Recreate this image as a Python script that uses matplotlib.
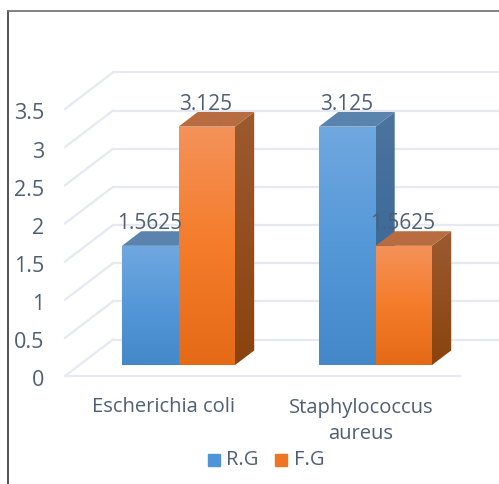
import numpy as np
import matplotlib
matplotlib.use('Agg')
import matplotlib.pyplot as plt
from matplotlib.colors import LinearSegmentedColormap
from matplotlib.patches import Polygon, Rectangle

plt.rcParams['font.family'] = ['Open Sans', 'DejaVu Sans']

categories = ['Escherichia coli', 'Staphylococcus\naureus']
series_names = ['R.G', 'F.G']
rg_values = [1.5625, 3.125]
fg_values = [3.125, 1.5625]
y_ticks = [0, 0.5, 1, 1.5, 2, 2.5, 3, 3.5]
y_tick_labels = ['0', '0.5', '1', '1.5', '2', '2.5', '3', '3.5']

W, H = 499, 484
# pixels per data unit, and where x=0 / y=0 sit in the picture
PX_X = 197.0
PX_Y = 76.3
X0 = 178.5
Y0 = 376.0
# full depth of the 3d box in pixels
DEPTH_X = 48 / PX_X
DEPTH_Y = 36.5 / PX_Y
BAR_W = 56.5 / PX_X
GRID = '#e6e9f0'
TEXT = '#4f5f73'

blue = dict(front=('#70a8e0', '#5598d8', '#4488ca'), top=('#5a83ae', '#5a83ae'), side=('#4c749e', '#2f6296'))
orange = dict(front=('#f5925a', '#f47c2a', '#e56a16'), top=('#b86c40', '#b86c40'), side=('#9c5a30', '#8a430e'))


def px_x(p):
    return (p - X0) / PX_X


def px_y(p):
    return (Y0 - p) / PX_Y


fig = plt.figure(figsize=(W / 100, H / 100), dpi=100)
ax = fig.add_axes([0, 0, 1, 1])
xlim = (px_x(0), px_x(W))
ylim = (px_y(H), px_y(0))
ax.axis('off')


def fill_face(verts, colors, zorder):
    verts = np.array(verts)
    cmap = LinearSegmentedColormap.from_list('f', colors)
    grad = np.linspace(0, 1, 256).reshape(-1, 1)
    ext = [verts[:, 0].min(), verts[:, 0].max(), verts[:, 1].min(), verts[:, 1].max()]
    im = ax.imshow(grad, cmap=cmap, extent=ext, origin='upper', aspect='auto', zorder=zorder)
    im.set_clip_path(Polygon(verts, closed=True, transform=ax.transData))


def bar3d(left, value, style, zorder):
    d0, d1 = 0.3, 0.7
    right = left + BAR_W
    base = d0 * DEPTH_Y
    top = base + value
    dx = (d1 - d0) * DEPTH_X
    dy = (d1 - d0) * DEPTH_Y
    fill_face([(right, base), (right + dx, base + dy), (right + dx, top + dy), (right, top)], style['side'], zorder)
    fill_face([(left, top), (right, top), (right + dx, top + dy), (left + dx, top + dy)], style['top'], zorder)
    fill_face([(left, base), (right, base), (right, top), (left, top)], style['front'], zorder + 0.5)
    return (left + right) / 2 + dx / 2, top + dy


# back wall gridlines and the slanted ones on the left side wall
x_left = px_x(65)
x_back = x_left + DEPTH_X
for t in y_ticks:
    by = t + DEPTH_Y
    ax.plot([x_left, x_back], [t, by], color=GRID, lw=1.6, zorder=1)
    ax.plot([x_back, px_x(W + 2)], [by, by], color=GRID, lw=1.6, zorder=1)
ax.plot([x_left, px_x(460)], [0, 0], color=GRID, lw=1.6, zorder=1)

for t, lab in zip(y_ticks, y_tick_labels):
    ax.text(px_x(44), t - 5 / PX_Y, lab, ha='right', va='center', fontsize=15.5, color=TEXT)

zo = 3
for i in range(len(categories)):
    for left, value, style in [(i - BAR_W, rg_values[i], blue), (i, fg_values[i], orange)]:
        lx, ly = bar3d(left, value, style, zo)
        zo += 1
        ax.text(lx - 0.1 * DEPTH_X - 5.5 / PX_X, ly - 0.035, f'{value:g}', ha='center', va='bottom',
                fontsize=15, color=TEXT, zorder=20)
    label_y = 407 if '\n' not in categories[i] else 421
    ax.text(i - 14.5 / PX_X, px_y(label_y), categories[i], ha='center', va='center', fontsize=14.5,
            color=TEXT, linespacing=1.4)

# legend
leg_x = [208, 275]
leg_colors = ['#4f94d8', '#ee7522']
for x, name, c in zip(leg_x, series_names, leg_colors):
    ax.add_patch(Rectangle((px_x(x), px_y(466)), 12 / PX_X, 12 / PX_Y, color=c, zorder=5))
    ax.text(px_x(x + 18.5), px_y(460), name, ha='left', va='center', fontsize=14.5, color=TEXT)

# frame of the pasted picture
ax.plot([px_x(7.5)] * 2, [px_y(10.5), px_y(H)], color='#444444', lw=1.3, zorder=6)
ax.plot([px_x(7.5), px_x(W)], [px_y(10.5)] * 2, color='#777777', lw=1.3, zorder=6)

ax.set_xlim(xlim)
ax.set_ylim(ylim)

fig.savefig('out.png', dpi=100)
